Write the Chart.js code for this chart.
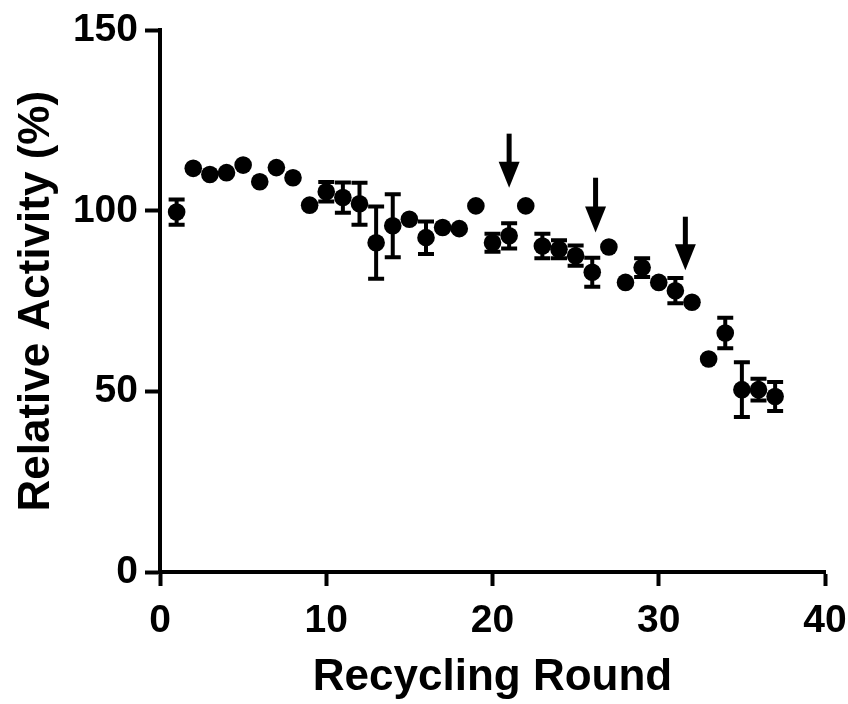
<!DOCTYPE html>
<html>
<head>
<meta charset="utf-8">
<script src="https://cdn.jsdelivr.net/npm/chart.js@4.4.1/dist/chart.umd.min.js"></script>
<style>
  html, body { margin: 0; padding: 0; background: #fff; }
  #wrap { width: 848px; height: 704px; }
</style>
</head>
<body>
<div id="wrap"><canvas id="activityChart" width="848" height="704"></canvas></div>
<script>
// Recycling rounds and measured relative activity (%)
const rounds = [1, 2, 3, 4, 5, 6, 7, 8, 9, 10, 11, 12, 13, 14, 15, 16, 17, 18, 19,
  20, 21, 22, 23, 24, 25, 26, 27, 28, 29, 30, 31, 32, 33, 34, 35, 36, 37];
const activity = [99.7, 111.8, 110.1, 110.6, 112.7, 108.1, 112.0, 109.2, 101.6, 105.3,
  103.7, 102.0, 91.2, 95.9, 97.7, 92.6, 95.4, 95.1, 101.4, 91.2,
  93.1, 101.4, 90.3, 89.4, 87.6, 83.0, 90.0, 80.2, 84.3, 80.2,
  77.9, 74.7, 59.0, 66.2, 50.5, 50.5, 48.6];
// error (+/-), 0 where the bar is hidden behind the marker
const errors = [3.5, 0, 0, 0, 0, 0, 0, 0, 0, 2.7,
  4.2, 5.8, 10.0, 8.7, 0, 4.5, 0, 0, 0, 2.5,
  3.5, 0, 3.4, 2.5, 2.8, 4.0, 0, 0, 2.6, 0,
  3.5, 0, 0, 4.2, 7.6, 3.0, 4.0];

// arrows pointing at the rounds where something changed
const arrowX = [21.0, 26.2, 31.6];
const arrowTop = [121.4, 109.2, 98.4];
const arrowTip = [106.4, 94.0, 83.6];

const xTicks = [0, 10, 20, 30, 40];
const yTicks = [0, 50, 100, 150];

const FONT = "Arial, 'Liberation Sans', Helvetica, sans-serif";

// error bars, drawn under the markers
const errorBarPlugin = {
  id: "errorBars",
  beforeDatasetsDraw(chart) {
    const { ctx, scales } = chart;
    const x = scales.x, y = scales.y;
    ctx.save();
    ctx.strokeStyle = "#000";
    rounds.forEach((r, i) => {
      if (!errors[i]) return;
      const px = x.getPixelForValue(r);
      const hi = y.getPixelForValue(activity[i] + errors[i]);
      const lo = y.getPixelForValue(activity[i] - errors[i]);
      ctx.lineWidth = 4;
      ctx.beginPath();
      ctx.moveTo(px, hi);
      ctx.lineTo(px, lo);
      ctx.stroke();
      ctx.beginPath();
      ctx.moveTo(px - 8, hi);
      ctx.lineTo(px + 8, hi);
      ctx.moveTo(px - 8, lo);
      ctx.lineTo(px + 8, lo);
      ctx.stroke();
    });
    ctx.restore();
  }
};

// downward arrows
const arrowPlugin = {
  id: "arrows",
  afterDatasetsDraw(chart) {
    const { ctx, scales } = chart;
    ctx.save();
    ctx.fillStyle = "#000";
    ctx.strokeStyle = "#000";
    arrowX.forEach((ax, i) => {
      const px = scales.x.getPixelForValue(ax);
      const top = scales.y.getPixelForValue(arrowTop[i]);
      const tip = scales.y.getPixelForValue(arrowTip[i]);
      const headLen = 26;
      ctx.lineWidth = 5;
      ctx.beginPath();
      ctx.moveTo(px, top);
      ctx.lineTo(px, tip - headLen + 2);
      ctx.stroke();
      ctx.beginPath();
      ctx.moveTo(px - 10.5, tip - headLen);
      ctx.lineTo(px + 10.5, tip - headLen);
      ctx.lineTo(px, tip);
      ctx.closePath();
      ctx.fill();
    });
    ctx.restore();
  }
};

const ctx = document.getElementById("activityChart").getContext("2d");

new Chart(ctx, {
  type: "scatter",
  data: {
    datasets: [{
      label: "Relative Activity",
      data: rounds.map((r, i) => ({ x: r, y: activity[i] })),
      backgroundColor: "#000",
      borderColor: "#000",
      borderWidth: 0,
      pointRadius: 8.8,
      pointHoverRadius: 8.8
    }]
  },
  options: {
    responsive: false,
    animation: false,
    layout: { padding: { top: 29, right: 0, left: 0, bottom: 0 } },
    plugins: {
      legend: { display: false },
      tooltip: { enabled: false }
    },
    scales: {
      x: {
        type: "linear",
        min: 0,
        max: 40,
        afterBuildTicks: (scale) => { scale.ticks = xTicks.map(v => ({ value: v })); },
        afterFit: (scale) => {
          scale.height = 132;
          scale.paddingLeft = 0;
          scale.paddingRight = 23;
        },
        border: { display: true, color: "#000", width: 4 },
        grid: { drawOnChartArea: false, drawTicks: true, tickLength: 14, tickWidth: 4, tickColor: "#000" },
        ticks: { color: "#000", padding: 12, font: { family: FONT, size: 39, weight: "bold" } },
        title: {
          display: true,
          text: "Recycling Round",
          color: "#000",
          padding: { top: 2, bottom: 0 },
          font: { family: FONT, size: 44, weight: "bold" }
        }
      },
      y: {
        min: 0,
        max: 150,
        afterBuildTicks: (scale) => { scale.ticks = yTicks.map(v => ({ value: v })); },
        afterFit: (scale) => { scale.width = 160; },
        border: { display: true, color: "#000", width: 4 },
        grid: { drawOnChartArea: false, drawTicks: true, tickLength: 15, tickWidth: 4, tickColor: "#000" },
        ticks: { color: "#000", padding: 7, font: { family: FONT, size: 39, weight: "bold" } },
        title: {
          display: true,
          text: "Relative Activity (%)",
          color: "#000",
          padding: { top: 10, bottom: 0 },
          font: { family: FONT, size: 44, weight: "bold" }
        }
      }
    }
  },
  plugins: [errorBarPlugin, arrowPlugin]
});
</script>
</body>
</html>
